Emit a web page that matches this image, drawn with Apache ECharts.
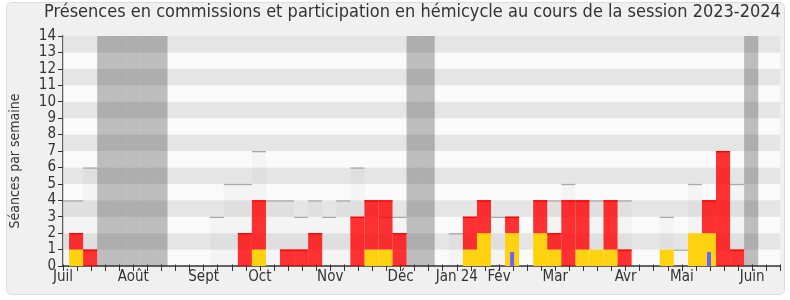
<!DOCTYPE html>
<html><head><meta charset="utf-8">
<script src="https://cdn.jsdelivr.net/npm/echarts@6/dist/echarts.min.js"></script>
<style>html,body{margin:0;padding:0;background:#fff}#c{width:790px;height:300px}</style>
</head><body><div id="c"></div>
<script>
// week index 0..51 (0 = first, partially visible week)
const seances    = [4,4,6,0,0,0,0,0,0,0,0,3,5,5,7,4,4,3,4,3,4,6,4,3,3,0,0,0,2,3,4,3,3,0,4,4,5,4,4,4,4,0,0,3,1,5,4,7,5,0,0,0];
const hemicycle  = [0,1,0,0,0,0,0,0,0,0,0,0,0,0,1,0,0,0,0,0,0,0,1,1,0,0,0,0,0,1,2,0,2,0,2,1,0,1,1,1,0,0,0,1,0,2,2,0,0,0,0,0];
const commission = [0,1,1,0,0,0,0,0,0,0,0,0,0,2,3,0,1,1,2,0,0,3,3,3,2,0,0,0,0,2,2,0,1,0,2,1,4,3,0,3,1,0,0,0,0,0,2,7,1,0,0,0];
const questions  = [0,0,0,0,0,0,0,0,0,0,0,0,0,0,0,0,0,0,0,0,0,0,0,0,0,0,0,0,0,0,0,0,0.85,0,0,0,0,0,0,0,0,0,0,0,0,0,0.85,0,0,0,0,0];
const vacances   = [3,4,5,6,7,25,26,49];
const monthTicks  = [0,5,10,14,19,24,28,31,35,40,44,49];
const monthLabels = ['Juil','Août','Sept','Oct','Nov','Déc','Jan 24','Fév','Mar','Avr','Mai','Juin'];
const yMax = 14;

const FONT = '"DejaVu Sans Condensed", "DejaVu Sans", sans-serif';
const chart = echarts.init(document.getElementById('c'), null, {renderer:'canvas'});

function makeRender(fill, topColor, narrow) {
  return function (params, api) {
    const i = api.value(0), y0 = api.value(1), y1 = api.value(2);
    if (y1 <= y0) return;
    const cs = params.coordSys;
    let p0, p1;
    if (narrow) {
      const c = api.coord([i - 0.07, y0]);
      const t = api.coord([i - 0.07, y1]);
      p0 = [c[0] - 2, c[1]]; p1 = [c[0] + 2, t[1]];
    } else {
      p0 = api.coord([i - 0.57, y0]);
      p1 = api.coord([i + 0.43, y1]);
    }
    const rect = echarts.graphic.clipRectByRect(
      {x: p0[0], y: p1[1], width: p1[0] - p0[0], height: p0[1] - p1[1]},
      {x: cs.x, y: cs.y, width: cs.width, height: cs.height});
    if (!rect) return;
    const children = [{type:'rect', shape: rect, style: {fill: fill}}];
    if (topColor) {
      children.push({type:'rect', shape:{x: rect.x, y: rect.y, width: rect.width, height: 1.3}, style:{fill: topColor}});
    }
    return {type:'group', children: children};
  };
}

const totalData = seances.map((v, i) => [i, 0, v]);
const vacData = vacances.map(i => [i, 0, yMax]);
const yellowData = hemicycle.map((v, i) => [i, 0, v]);
const redData = commission.map((v, i) => [i, hemicycle[i], hemicycle[i] + v]);
const blueData = questions.map((v, i) => [i, 0, v]);

const labelMap = {};
monthTicks.forEach((t, k) => labelMap[t] = monthLabels[k]);

chart.setOption({
  animation: false,
  textStyle: {fontFamily: FONT},
  graphic: [{type:'rect', z:-10, shape:{x:6.5, y:2.5, width:778, height:292, r:5},
             style:{fill:'#f0f0f0', stroke:'#dcdcdc', lineWidth:1}}],
  title: {text: 'Présences en commissions et participation en hémicycle au cours de la session 2023-2024',
          left: 44, top: 3, padding: 0, textStyle: {fontFamily: FONT, fontSize: 18, fontWeight: 'normal', color: '#333'}},
  grid: {left: 61.7, right: 9.7, top: 36, bottom: 34},
  xAxis: [{
    type: 'value', min: 0, max: 51, interval: 1, position: 'bottom',
    axisLine: {show: true, lineStyle: {color: '#333', width: 1.5}},
    axisTick: {show: true, length: 5, lineStyle: {color: '#333'}},
    splitLine: {show: false},
    axisLabel: {fontSize: 15, color: '#333', margin: 4, fontFamily: FONT,
                formatter: v => labelMap[v] || '', showMinLabel: true, showMaxLabel: true}
  }, {
    type: 'value', min: 0, max: 51, interval: 1, position: 'top',
    axisLine: {show: false},
    axisTick: {show: true, length: 1.5, lineStyle: {color: '#333'}},
    axisLabel: {show: false}, splitLine: {show: false}
  }],
  yAxis: [{
    type: 'value', min: 0, max: yMax, interval: 1,
    name: 'Séances par semaine', nameLocation: 'middle', nameGap: 41, nameRotate: 90,
    nameTextStyle: {fontSize: 14, color: '#333', fontFamily: FONT, padding: [0, 20, 0, 0]},
    axisLine: {show: true, lineStyle: {color: '#333', width: 1.5}},
    axisTick: {show: true, length: 5, lineStyle: {color: '#333'}},
    axisLabel: {fontSize: 15, color: '#333', fontFamily: FONT, margin: 7},
    splitLine: {show: false},
    splitArea: {show: true, areaStyle: {color: ['#fafafa', '#e5e5e5']}}
  }, {
    type: 'value', min: 0, max: yMax, position: 'right',
    axisLine: {show: true, lineStyle: {color: '#cfcfcf', width: 1}},
    axisTick: {show: false}, axisLabel: {show: false}, splitLine: {show: false}
  }],
  series: [
    {type:'custom', renderItem: makeRender('rgba(0,0,0,0.025)', '#a9a9a9'), data: totalData, encode:{x:0, y:[1,2]}, z: 1},
    {type:'custom', renderItem: makeRender('rgba(40,40,40,0.29)', null), data: vacData, encode:{x:0, y:[1,2]}, z: 2},
    {type:'custom', renderItem: makeRender('#ffd20f', null), data: yellowData, encode:{x:0, y:[1,2]}, z: 3},
    {type:'custom', renderItem: makeRender('rgba(255,0,0,0.8)', '#ff0000'), data: redData, encode:{x:0, y:[1,2]}, z: 4},
    {type:'custom', renderItem: makeRender('#6666ff', null, true), data: blueData, encode:{x:0, y:[1,2]}, z: 5}
  ]
});
</script></body></html>
